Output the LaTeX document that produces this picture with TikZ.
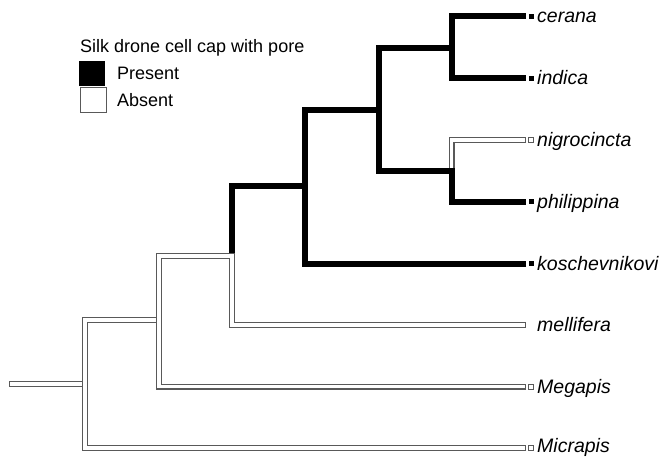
\documentclass[tikz,border=0pt]{standalone}
\usepackage{fontspec}
\setmainfont{Liberation Sans}
\definecolor{edgegray}{gray}{0.35}
\begin{document}
\begin{tikzpicture}[x=1pt,y=-1pt,
  pres/.style={draw=black, line width=6pt, line join=miter},
  absn/.style={draw=white, line width=3.4pt, line join=miter,
    shorten <=1.3pt, shorten >=1.3pt,
    preaction={draw=edgegray, line width=6pt, line join=miter, shorten <=0pt, shorten >=0pt}},
  tipp/.style={fill=black, draw=none, minimum size=5pt, inner sep=0pt},
  tipa/.style={fill=white, draw=edgegray, line width=1pt, minimum size=5pt, inner sep=0pt},
  taxon/.style={anchor=base west, inner sep=0pt, font=\fontsize{19.5}{22}\selectfont\itshape},
  legtxt/.style={anchor=base west, inner sep=0pt, font=\fontsize{18}{21}\selectfont},
  legbox/.style={minimum width=26pt, minimum height=25pt, inner sep=0pt, anchor=north west}
]
\useasboundingbox (0,0) rectangle (664,457);

% leaf ends
\coordinate (ce) at (526,16.5);
\coordinate (in) at (526,78.5);
\coordinate (ni) at (526,140);
\coordinate (ph) at (526,202);
\coordinate (ko) at (526,263.5);
\coordinate (me) at (526,325);
\coordinate (Me) at (526,386.5);
\coordinate (Mi) at (526,448);
% internal nodes
\coordinate (n6) at (451.5,48);
\coordinate (n7) at (451.5,171);
\coordinate (n5) at (378.5,110);
\coordinate (n4) at (305,186.5);
\coordinate (n3) at (232,256);
\coordinate (n2) at (159,320);
\coordinate (rt) at (85,384);
\coordinate (st) at (9,384);
\coordinate (n3b) at (232,253);

% absent branches
\draw[absn] (st) -- (rt);
\draw[absn] (Mi) -- (rt |- Mi) -- (rt |- n2) -- (n2);
\draw[absn] (Me) -- (n2 |- Me) -- (n2 |- n3) -- (n3) -- (n3 |- me) -- (me);
\draw[absn] (ni) -- (n7 |- ni) -- (n7);

% present branches
\draw[pres] (n3b) -- (n3 |- n4) -- (n4);
\draw[pres] (ko) -- (n4 |- ko) -- (n4 |- n5) -- (n5);
\draw[pres] (n6) -- (n5 |- n6) -- (n5 |- n7) -- (n7) -- (n7 |- ph) -- (ph);
\draw[pres] (ce) -- (n6 |- ce) -- (n6 |- in) -- (in);

% tip squares
\node[tipp] (sce) at (531,16.5) {};
\node[tipp] (sin) at (531,78.5) {};
\node[tipa] (sni) at (531,140) {};
\node[tipp] (sph) at (531,202) {};
\node[tipp] (sko) at (531,263.5) {};
\node[tipa] (sMe) at (531,386.5) {};
\node[tipa] (sMi) at (531,448) {};

% taxon labels
\node[taxon] (lce) at (537,23) {cerana};
\node[taxon] (lin) at (537,85) {indica};
\node[taxon] (lni) at (537,146.5) {nigrocincta};
\node[taxon] (lph) at (537,208.5) {philippina};
\node[taxon] (lko) at (537,270) {koschevnikovi};
\node[taxon] (lme) at (537,331.5) {mellifera};
\node[taxon] (lMe) at (537,393) {Megapis};
\node[taxon] (lMi) at (537,452.5) {Micrapis};

% legend
\node[legtxt] (ttl) at (80,53) {Silk drone cell cap with pore};
\node[legbox, fill=black] (bp) at (79,61) {};
\node[legbox, fill=white, draw=edgegray, line width=1pt] (ba) at (79.5,87.5) {};
\node[legtxt] (tp) at (117,80) {Present};
\node[legtxt] (ta) at (117,107) {Absent};
\end{tikzpicture}
\end{document}
